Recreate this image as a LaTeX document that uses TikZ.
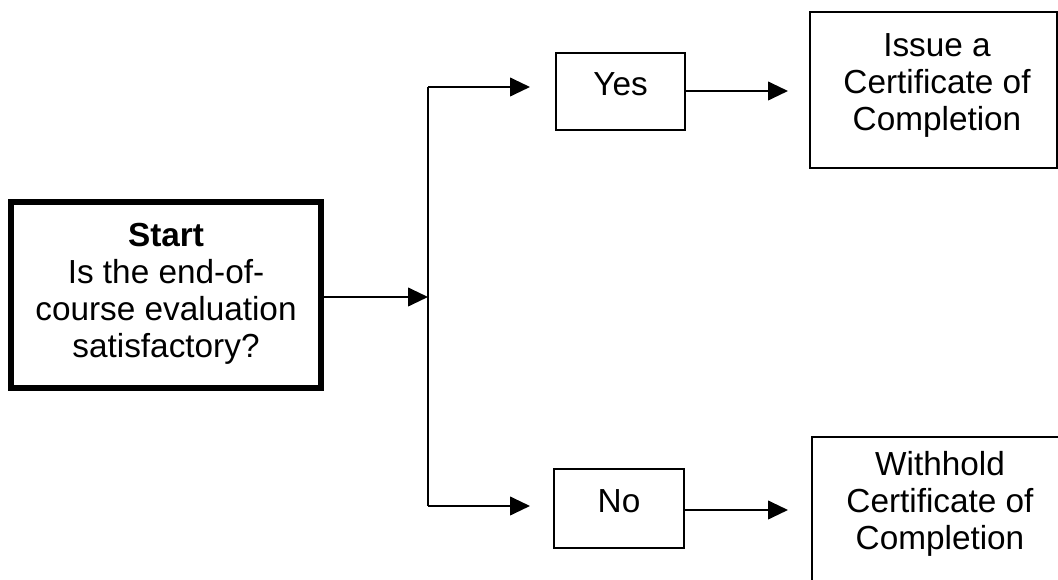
\documentclass[tikz,border=0pt]{standalone}
\usepackage{fontspec}
\setmainfont{Liberation Sans}
\usetikzlibrary{arrows.meta}
\begin{document}
\begin{tikzpicture}[x=0.75pt,y=-0.75pt,
  thinbox/.style={draw=black,line width=1.5pt,inner sep=0pt},
  thickbox/.style={draw=black,line width=4.2pt,inner sep=0pt},
  txt/.style={align=center,font=\fontsize{25}{27.75}\selectfont,inner sep=0pt},
  conn/.style={line width=1.5pt},
  arr/.style={line width=1.5pt,-{Triangle[length=15pt,width=14pt]}}]
\useasboundingbox (0,0) rectangle (1058,580);
\clip (0,0) rectangle (1058,580);
% Start box
\node[thickbox,minimum width=310*0.75pt,minimum height=186*0.75pt] (start) at (166,295) {};
\node[txt] (starttxt) at (166,294) {\textbf{Start}\\Is the end-of-\\course evaluation\\satisfactory?};
% Yes / No boxes
\node[thinbox,minimum width=129*0.75pt,minimum height=77*0.75pt] (yes) at (620.5,91.5) {};
\node[txt] (yestxt) at (620.5,84) {Yes};
\node[thinbox,minimum width=130*0.75pt,minimum height=79*0.75pt] (no) at (619,508.5) {};
\node[txt] (notxt) at (619,501) {No};
% Result boxes
\node[thinbox,minimum width=247*0.75pt,minimum height=156*0.75pt] (issue) at (933.5,90) {};
\node[txt] (issuetxt) at (937,85) {Issue a\\Certificate of\\Completion};
\node[thinbox,minimum width=258*0.75pt,minimum height=170*0.75pt] (withhold) at (941,522) {};
\node[txt] (withholdtxt) at (940,504) {Withhold\\Certificate of\\Completion};
% connectors
\coordinate (split) at (428,297);
\coordinate (top) at (428,87);
\coordinate (bot) at (428,506);
\coordinate (yesin) at (530,87);
\coordinate (noin) at (530,506);
\coordinate (yesout) at (788,91);
\coordinate (noout) at (788,510);
\draw[arr] (start.east |- split) -- (split);
\draw[conn] (top) -- (bot);
\draw[arr] (top) -- (yesin);
\draw[arr] (bot) -- (noin);
\draw[arr] (yes.east |- yesout) -- (yesout);
\draw[arr] (no.east |- noout) -- (noout);
\end{tikzpicture}
\end{document}
